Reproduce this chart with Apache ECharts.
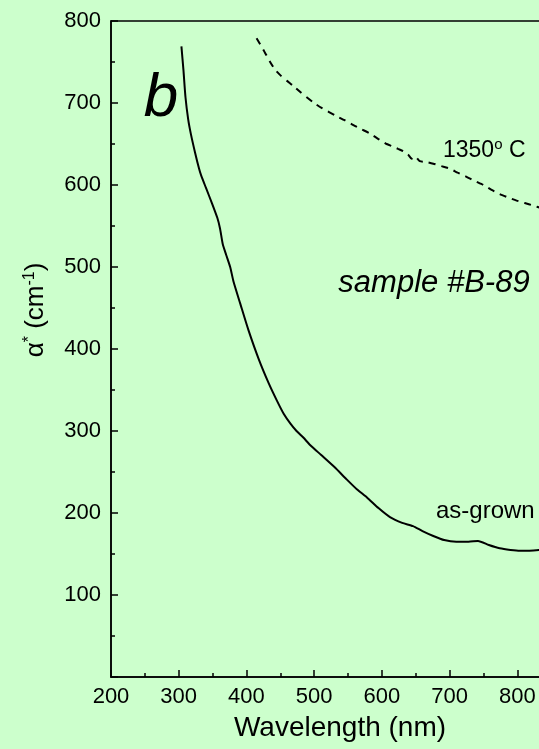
<!DOCTYPE html>
<html>
<head>
<meta charset="utf-8">
<script src="https://cdn.jsdelivr.net/npm/echarts@6/dist/echarts.min.js"></script>
<style>
html,body{margin:0;padding:0;background:#ccffcc;}
#c{width:539px;height:749px;}
</style>
</head>
<body>
<div id="c"></div>
<script>
// Wavelength (nm), alpha* (cm^-1)
var asGrownWl = [304, 307, 310, 314, 318, 324, 330, 333, 340, 349, 357, 361, 365, 370, 376, 381, 391, 403, 418, 433, 445, 455, 465, 474, 484, 494, 510, 530, 548, 563, 578, 595, 612, 630, 646, 660, 676, 692, 710, 728, 742, 758, 774, 790, 804, 818, 832, 845];
var asGrownVal = [769, 740, 707, 680, 662, 640, 620, 612, 597, 578, 560, 547, 528, 515, 500, 482, 455, 423, 388, 358, 337, 321, 309, 300, 292, 283, 271, 256, 241, 229, 219, 206, 195, 188, 184, 178, 172, 167, 165, 165, 166, 161, 157, 155, 154, 154, 155, 157];
var annealedWl = [415, 425, 435, 442, 450, 460, 469, 480, 489, 500, 511, 522, 533, 545, 558, 570, 582, 595, 607, 616, 624, 632, 639, 644, 649, 656, 666, 676, 688, 700, 712, 725, 737, 750, 762, 774, 786, 799, 811, 823, 835, 848];
var annealedVal = [779, 765, 750, 741, 734, 727, 721, 713, 707, 700, 694, 689, 684, 679, 673, 668, 663, 656, 650, 647, 644, 641, 637, 632, 635, 629, 628, 626, 623, 620, 615, 610, 605, 600, 594, 589, 585, 581, 578, 575, 572, 569];
var xTicks = [200, 300, 400, 500, 600, 700, 800];
var yTicks = [100, 200, 300, 400, 500, 600, 700, 800];

function pairs(a, b) { return a.map(function (v, i) { return [v, b[i]]; }); }

var FONT = 'Liberation Sans, Arial, sans-serif';
var chart = echarts.init(document.getElementById('c'));
chart.setOption({
  backgroundColor: '#ccffcc',
  animation: false,
  grid: { left: 111, top: 21, width: 474, height: 656, show: true, borderColor: '#000', borderWidth: 1.5, backgroundColor: 'transparent', containLabel: false, outerBoundsMode: 'none' },
  xAxis: {
    type: 'value', min: 200, max: 900, interval: 100,
    axisLine: { lineStyle: { color: '#000', width: 1.5 } },
    axisTick: { inside: true, length: 7, lineStyle: { color: '#000', width: 1.5 } },
    minorTick: { show: true, splitNumber: 2, length: 4, lineStyle: { color: '#000', width: 1.5 } },
    splitLine: { show: false },
    axisLabel: { color: '#000', fontSize: 22, fontFamily: FONT, margin: 9, hideOverlap: false,
      formatter: function (v) { return xTicks.indexOf(v) >= 0 ? String(v) : ''; } }
  },
  yAxis: {
    type: 'value', min: 0, max: 800, interval: 100,
    axisLine: { lineStyle: { color: '#000', width: 1.5 } },
    axisTick: { inside: true, length: 7, lineStyle: { color: '#000', width: 1.5 } },
    minorTick: { show: true, splitNumber: 2, length: 4, lineStyle: { color: '#000', width: 1.5 } },
    splitLine: { show: false },
    axisLabel: { color: '#000', fontSize: 22, fontFamily: FONT, margin: 10,
      formatter: function (v) { return yTicks.indexOf(v) >= 0 ? String(v) : ''; } }
  },
  series: [
    { type: 'line', data: pairs(asGrownWl, asGrownVal), showSymbol: false, smooth: 0.2,
      lineStyle: { color: '#000', width: 2 } },
    { type: 'line', data: pairs(annealedWl, annealedVal), showSymbol: false, smooth: 0.2,
      lineStyle: { color: '#000', width: 2, type: [7, 6] } }
  ],
  graphic: [
    { type: 'text', x: 36, y: 310, rotation: Math.PI / 2,
      style: { text: '{b|α}{s|*}{b| (cm}{s|-1}{b|)}', align: 'center', verticalAlign: 'middle', fill: '#000',
        rich: { b: { fontSize: 26, fontFamily: FONT, fill: '#000' }, s: { fontSize: 16, fontFamily: FONT, fill: '#000', padding: [0, 0, 12, 0] } } } },
    { type: 'text', x: 340, y: 728,
      style: { text: 'Wavelength (nm)', font: '28px Liberation Sans, Arial, sans-serif', fill: '#000', align: 'center', verticalAlign: 'middle' } },
    { type: 'text', x: 161, y: 99,
      style: { text: 'b', font: 'italic 62px Liberation Sans, Arial, sans-serif', fill: '#000', align: 'center', verticalAlign: 'middle' } },
    { type: 'text', x: 434, y: 283,
      style: { text: 'sample #B-89', font: 'italic 31px Liberation Sans, Arial, sans-serif', fill: '#000', align: 'center', verticalAlign: 'middle' } },
    { type: 'text', x: 443, y: 151,
      style: { text: '{b|1350}{s|o}{b| C}', align: 'left', verticalAlign: 'middle', fill: '#000',
        rich: { b: { fontSize: 23, fontFamily: FONT, fill: '#000' }, s: { fontSize: 15, fontFamily: FONT, fill: '#000', padding: [0, 0, 12, 0] } } } },
    { type: 'text', x: 436, y: 511,
      style: { text: 'as-grown', font: '24px Liberation Sans, Arial, sans-serif', fill: '#000', align: 'left', verticalAlign: 'middle' } }
  ]
});
</script>
</body>
</html>
